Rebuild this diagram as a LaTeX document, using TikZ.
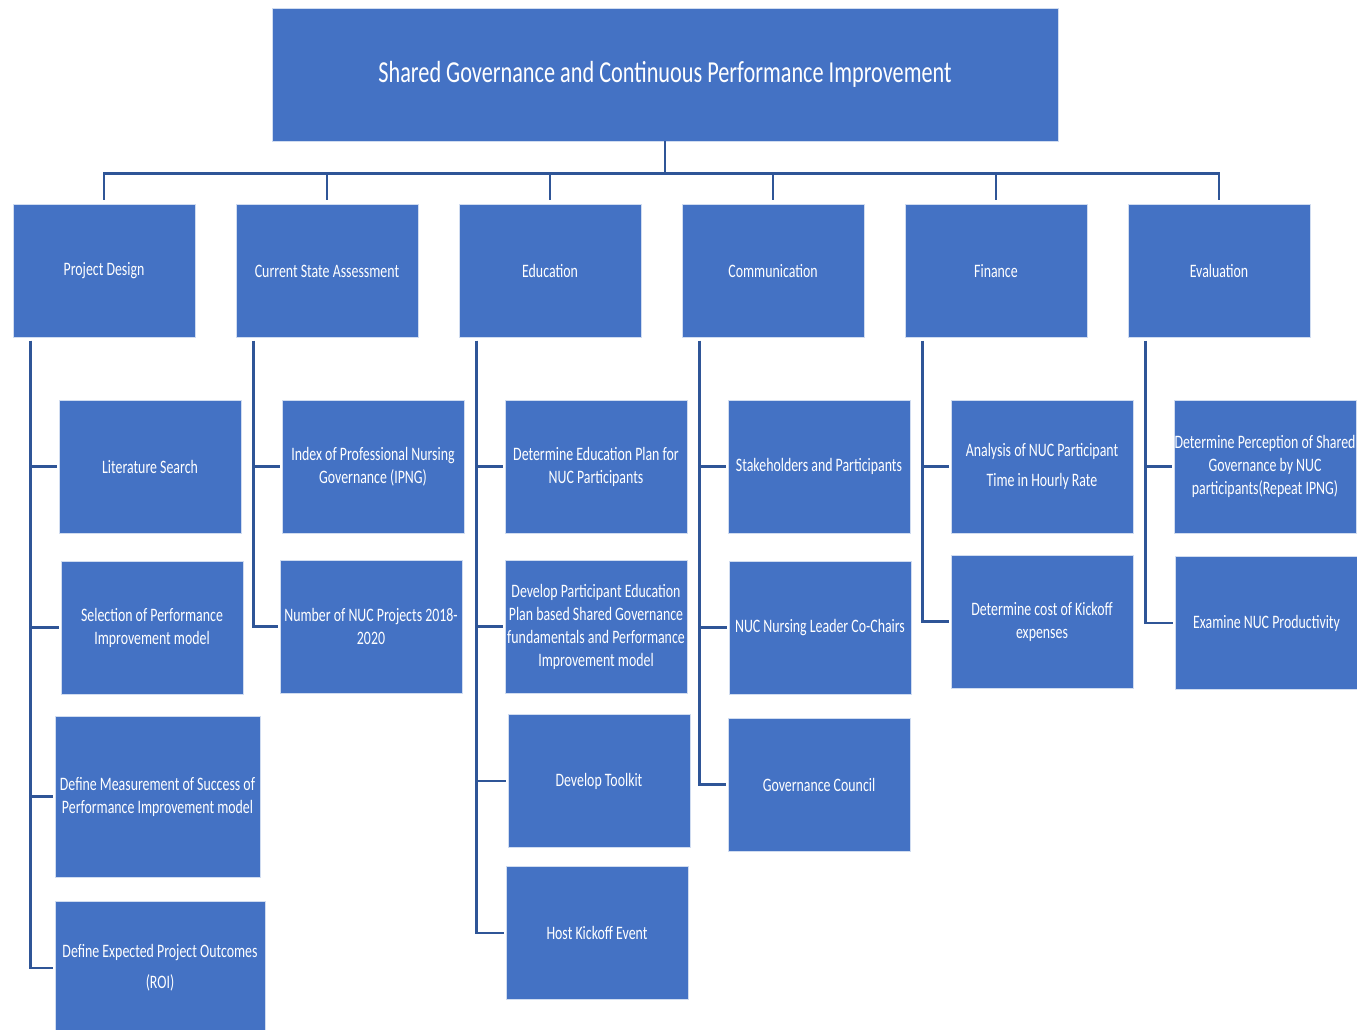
\documentclass[tikz,border=0pt]{standalone}
\usepackage{fontspec}
\setmainfont{Carlito}[FakeStretch=0.73]
\usepackage{tikz}
\definecolor{boxblue}{RGB}{68,114,196}
\definecolor{linkblue}{RGB}{47,85,151}

\begin{document}
\begin{tikzpicture}[x=1pt, y=-1pt,
        box/.style={fill=boxblue, draw=white!75!boxblue, line width=0.8pt, text=white,
                align=center, inner sep=0pt, minimum width=182pt, minimum height=133pt,
                font=\fontsize{19}{23}\selectfont},
        topbox/.style={box, minimum width=786pt, minimum height=133pt,
                font=\fontsize{30.5}{36}\selectfont},
        link/.style={draw=linkblue, line width=2.6pt}]
        \useasboundingbox (0,0) rectangle (1357,1030);

        \node[topbox] (title) at (665,74.5) {Shared Governance and Continuous Performance Improvement};

        \node[box] (design) at (104,271) {Project Design};
        \node[box] (current) at (327,271) {Current State Assessment};
        \node[box] (edu) at (550,271) {Education};
        \node[box] (comm) at (773,271) {Communication};
        \node[box] (fin) at (996,271) {Finance};
        \node[box] (eval) at (1219,271) {Evaluation};

        \foreach \n in {design, current, edu, comm, fin, eval}
                \draw[link, shorten >=4pt] (title.south) -- ++(0,32) -| (\n.north);

        \node[box] (litsearch) at (150,466.5) {Literature Search};
        \node[box] (selpim) at (152,627.5) {Selection of Performance\\Improvement model};
        \node[box, minimum width=205pt, minimum height=161pt] (defmeas) at (157.5,796.5)
                {Define Measurement of Success of\\Performance Improvement model};
        \node[box, minimum width=210pt, minimum height=134pt] (defroi) at (160,968)
                {Define Expected Project Outcomes\\[8pt](ROI)};

        \node[box] (ipng) at (373,466.5) {Index of Professional Nursing\\Governance (IPNG)};
        \node[box] (nucproj) at (371,626.5) {Number of NUC Projects 2018-\\2020};

        \node[box] (eduplan) at (596,466.5) {Determine Education Plan for\\NUC Participants};
        \node[box] (edufund) at (596,626.5) {Develop Participant Education\\Plan based Shared Governance\\fundamentals and Performance\\Improvement model};
        \node[box] (toolkit) at (599,781) {Develop Toolkit};
        \node[box] (kickoff) at (597,933) {Host Kickoff Event};

        \node[box] (stake) at (819,466.5) {Stakeholders and Participants};
        \node[box] (cochairs) at (820,627.5) {NUC Nursing Leader Co-Chairs};
        \node[box] (council) at (819,784.5) {Governance Council};

        \node[box] (costtime) at (1042,466.5) {Analysis of NUC Participant\\[7pt]Time in Hourly Rate};
        \node[box] (costkick) at (1042,621.5) {Determine cost of Kickoff\\expenses};

        \node[box] (percep) at (1265,466.5) {Determine Perception of Shared\\Governance by NUC\\participants(Repeat IPNG)};
        \node[box] (product) at (1266.5,623) {Examine NUC Productivity};

        \foreach \p/\c in {design/litsearch, design/selpim, design/defmeas, design/defroi,
                        current/ipng, current/nucproj,
                        edu/eduplan, edu/edufund, edu/toolkit, edu/kickoff,
                        comm/stake, comm/cochairs, comm/council,
                        fin/costtime, fin/costkick,
                        eval/percep, eval/product}
                \draw[link, shorten >=2pt] ([xshift=18pt, yshift=-3pt]\p.south west) |- (\c.west);
\end{tikzpicture}
\end{document}
